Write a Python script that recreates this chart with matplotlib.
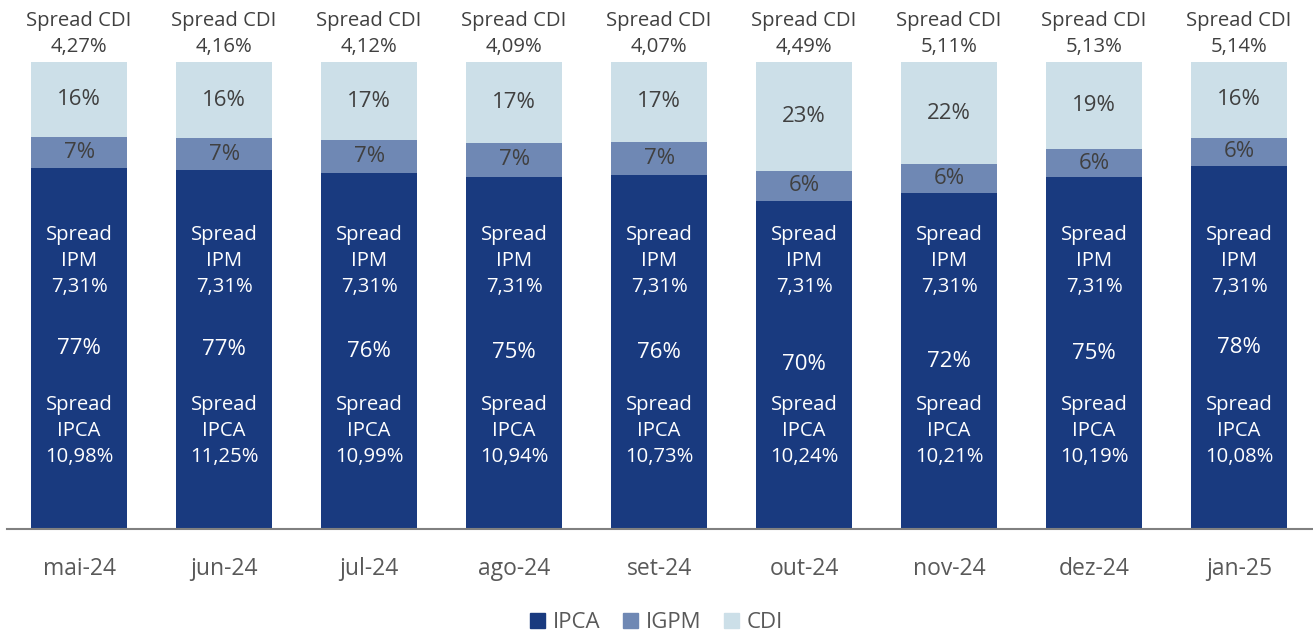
import matplotlib.pyplot as plt
from matplotlib.patches import Patch

plt.rcParams['font.family'] = ['Open Sans', 'DejaVu Sans']

months = ["mai-24", "jun-24", "jul-24", "ago-24", "set-24", "out-24", "nov-24", "dez-24", "jan-25"]
ipca = [77.2, 76.9, 76.2, 75.4, 75.8, 70.3, 71.9, 75.3, 77.8]
igpm = [6.7, 6.8, 7.0, 7.3, 7.1, 6.3, 6.2, 6.1, 6.0]
cdi = [16.1, 16.3, 16.8, 17.3, 17.1, 23.4, 21.9, 18.6, 16.2]

spread_cdi = ["4,27%", "4,16%", "4,12%", "4,09%", "4,07%", "4,49%", "5,11%", "5,13%", "5,14%"]
spread_ipm = ["7,31%"] * 9
spread_ipca = ["10,98%", "11,25%", "10,99%", "10,94%", "10,73%", "10,24%", "10,21%", "10,19%", "10,08%"]

c_ipca = "#193A7F"
c_igpm = "#6F88B4"
c_cdi = "#CCDFE8"
txt_dark = "#404040"

fig = plt.figure(figsize=(13.13, 6.34), dpi=100)
ax = fig.add_axes([0.005, 0.1656, 0.994, 0.7366])

x = range(len(months))
w = 0.66
ax.bar(x, ipca, w, color=c_ipca, label="IPCA")
ax.bar(x, igpm, w, bottom=ipca, color=c_igpm, label="IGPM")
bot2 = [a + b for a, b in zip(ipca, igpm)]
ax.bar(x, cdi, w, bottom=bot2, color=c_cdi, label="CDI")

fs = 14.6   # spread labels
fp = 16     # percentage labels
for i in x:
    ax.text(i, ipca[i] / 2, f"{round(ipca[i])}%", ha="center", va="center", color="white", fontsize=fp)
    ax.text(i, ipca[i] + igpm[i] / 2, f"{round(igpm[i])}%", ha="center", va="center", color=txt_dark, fontsize=fp)
    ax.text(i, bot2[i] + cdi[i] / 2, f"{round(cdi[i])}%", ha="center", va="center", color=txt_dark, fontsize=fp)
    ax.text(i, 57.4, "Spread\nIPM\n" + spread_ipm[i], ha="center", va="center", color="white", fontsize=fs, linespacing=1.4)
    ax.text(i, 21.0, "Spread\nIPCA\n" + spread_ipca[i], ha="center", va="center", color="white", fontsize=fs, linespacing=1.4)
    ax.text(i, 106.0, "Spread CDI\n" + spread_cdi[i], ha="center", va="center", color=txt_dark, fontsize=fs, linespacing=1.4)

ax.set_xlim(-0.5, len(months) - 0.5)
ax.set_ylim(0, 100)
ax.set_xticks(list(x))
ax.set_xticklabels(months, fontsize=16.5, color="#595959")
ax.tick_params(axis="x", length=0, pad=20)
ax.set_yticks([])
for s in ["top", "right", "left"]:
    ax.spines[s].set_visible(False)
ax.spines["bottom"].set_color("#808080")
ax.spines["bottom"].set_linewidth(1.5)

handles = [Patch(color=c_ipca, label="IPCA"), Patch(color=c_igpm, label="IGPM"), Patch(color=c_cdi, label="CDI")]
leg = fig.legend(handles=handles, loc="center", bbox_to_anchor=(0.5, 0.018), ncol=3, frameon=False,
                 fontsize=16, handlelength=0.7, handleheight=0.7, handletextpad=0.35, columnspacing=1.0)
for t in leg.get_texts():
    t.set_color("#595959")

fig.savefig("out.png", dpi=100)
